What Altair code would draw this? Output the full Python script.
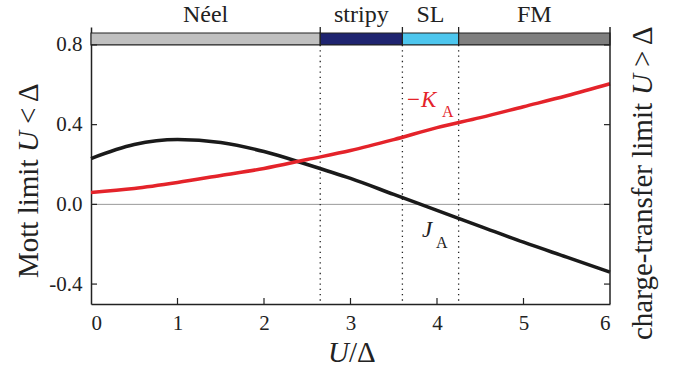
import altair as alt
import pandas as pd

# ---- data ----
U = [0, 0.5, 1, 1.5, 2, 2.5, 3, 3.5, 4, 4.5, 5, 5.5, 6]
J_A = [0.23, 0.30, 0.325, 0.31, 0.265, 0.20, 0.13, 0.05, -0.03, -0.11, -0.19, -0.265, -0.34]
minus_K_A = [0.06, 0.08, 0.11, 0.145, 0.18, 0.225, 0.27, 0.325, 0.385, 0.435, 0.49, 0.545, 0.605]

phase_names = ["Néel", "stripy", "SL", "FM"]
phase_start = [0.0, 2.65, 3.6, 4.25]
phase_end = [2.65, 3.6, 4.25, 6.0]
phase_colors = ["#c0c0c0", "#1f2470", "#4dc6ee", "#7f7f7f"]
boundaries = [2.65, 3.6, 4.25]
x_ticks = [0, 1, 2, 3, 4, 5, 6]
x_inner_ticks = [1, 2, 3, 4, 5]
y_ticks = [-0.4, 0.0, 0.4, 0.8]

W, H = 519, 277
FONT = "Liberation Serif"
INK = "#222222"

xs = alt.Scale(domain=[0, 6], nice=False, zero=False)
ys = alt.Scale(domain=[-0.5, 0.89], nice=False, zero=False)
XA = alt.Axis(values=x_ticks, title=None, format="d", labelFont=FONT, labelFontSize=21,
              labelColor=INK, tickSize=0, domainColor=INK, domainWidth=1.5, grid=False, labelPadding=8)
YA = alt.Axis(values=y_ticks, title=None, labelFont=FONT, labelFontSize=21,
              labelColor=INK, tickSize=0, domainColor=INK, domainWidth=1.5, grid=False, labelPadding=9,
              labelExpr="datum.value < 0 ? '-' + format(-datum.value, '.1f') : format(datum.value, '.1f')")

one = pd.DataFrame({"a": [0]})

curves_df = pd.DataFrame({
    "U": U + U,
    "v": J_A + minus_K_A,
    "s": ["J"] * len(U) + ["K"] * len(U),
})
bound_df = pd.DataFrame({"b": boundaries})
yt_df = pd.DataFrame({"t": y_ticks})
xt_df = pd.DataFrame({"t": x_inner_ticks})


def X(field):
    return alt.X(field, scale=xs, axis=XA)


def Y(field):
    return alt.Y(field, scale=ys, axis=YA)


def YD(v):
    return alt.Y(datum=v, scale=ys, axis=YA)


def Y2D(v):
    return alt.Y2(datum=v)


zero_line = alt.Chart(one).mark_rule(color="#9a9a9a", strokeWidth=1).encode(
    y=YD(0.0), x=alt.value(0), x2=alt.value(W))

dotted = alt.Chart(bound_df).mark_rule(color=INK, strokeWidth=1.3, strokeDash=[1.3, 4]).encode(
    x=X("b:Q"), y=YD(0.80), y2=Y2D(-0.5))

short = alt.Chart(bound_df).mark_rule(color=INK, strokeWidth=1.3).encode(
    x=X("b:Q"), y=YD(0.86), y2=Y2D(0.89))

curves = alt.Chart(curves_df).mark_line(strokeWidth=3.5, interpolate="monotone").encode(
    x=X("U:Q"),
    y=Y("v:Q"),
    color=alt.Color("s:N", scale=alt.Scale(domain=["J", "K"], range=["#1a1a1a", "#e4232a"]), legend=None),
    detail="s:N",
)

bar_layers = []
label_layers = []
for name, s, e, c in zip(phase_names, phase_start, phase_end, phase_colors):
    seg = pd.DataFrame({"start": [s], "end": [e]})
    bar_layers.append(alt.Chart(seg).mark_rect(stroke=INK, strokeWidth=1.2, color=c).encode(
        x=X("start:Q"), x2="end:Q", y=YD(0.80), y2=Y2D(0.86)))
    label_layers.append(alt.Chart(seg).transform_calculate(
        mid="(datum.start + datum.end) / 2").mark_text(
        text=name, font=FONT, fontSize=24, color=INK, baseline="alphabetic", align="center").encode(
        x=X("mid:Q"), y=alt.value(-5)))

right_frame = alt.Chart(one).mark_rule(color=INK, strokeWidth=1.5).encode(
    x=alt.value(W), y=alt.value(0), y2=alt.value(H))

left_ticks = alt.Chart(yt_df).mark_rule(color=INK, strokeWidth=1.2).encode(
    y=Y("t:Q"), x=alt.value(0), x2=alt.value(6))
right_ticks = alt.Chart(yt_df).mark_rule(color=INK, strokeWidth=1.2).encode(
    y=Y("t:Q"), x=alt.value(W - 6), x2=alt.value(W))
bottom_ticks = alt.Chart(xt_df).mark_rule(color=INK, strokeWidth=1.2).encode(
    x=X("t:Q"), y=alt.value(H), y2=alt.value(H - 6))


def txt(s, x, y, size=29, color=INK, italic=False, angle=0, align="left"):
    kw = dict(font=FONT, fontSize=size, color=color, baseline="alphabetic", align=align)
    if italic:
        kw["fontStyle"] = "italic"
    if angle:
        kw["angle"] = angle
    return alt.Chart(one).mark_text(text=s, **kw).encode(x=alt.value(x), y=alt.value(y))


annotations = [
    # curve labels
    txt("\u2212", 316, 80, size=23, color="#e4232a"),
    txt("K", 330, 80, size=23, color="#e4232a", italic=True),
    txt("A", 351, 90, size=16, color="#e4232a"),
    txt("J", 331, 210, size=23, italic=True),
    txt("A", 345, 221, size=16),
    # x title
    txt("U", 237, 335, italic=True),
    txt("/\u0394", 258, 335),
    # left title
    txt("Mott limit", -53, 251, angle=270),
    txt("U", -53, 125, angle=270, italic=True),
    txt("< \u0394", -53, 97, angle=270),
    # right title
    txt("charge-transfer limit", 561, 313, angle=270),
    txt("U", 561, 68, angle=270, italic=True),
    txt("> \u0394", 561, 40, angle=270),
]

chart = alt.layer(
    zero_line, dotted, short, curves, *bar_layers, *label_layers, right_frame,
    left_ticks, right_ticks, bottom_ticks, *annotations
).properties(
    width=W, height=H,
    padding={"left": 91, "top": 27, "right": 75, "bottom": 71},
    autosize="none",
).configure_view(stroke=None).configure_axis(
    labelFont=FONT, labelFontSize=21, labelColor=INK, tickSize=0,
    domainColor=INK, domainWidth=1.5, grid=False, labelPadding=9,
).configure_text(font=FONT)

chart.save("out.html", embed_options={"renderer": "svg", "actions": False})
